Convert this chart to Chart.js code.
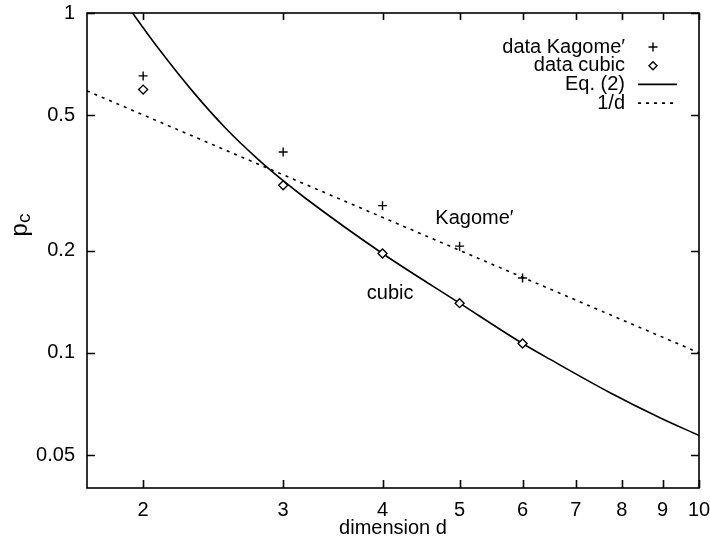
<!DOCTYPE html>
<html>
<head>
<meta charset="utf-8">
<script src="https://cdn.jsdelivr.net/npm/chart.js@4.4.0/dist/chart.umd.min.js"></script>
<style>
  html, body { margin: 0; padding: 0; background: #fff; }
  #wrap { width: 710px; height: 543px; position: relative; }
</style>
</head>
<body>
<div id="wrap"><canvas id="pcChart"></canvas></div>
<script>
// measured thresholds
const dims = [2, 3, 4, 5, 6];
const kagomeP = [0.653, 0.39, 0.271, 0.206, 0.166];
const cubicP = [0.595, 0.311, 0.196, 0.140, 0.1065];

// Eq. (2) curve
const eqD = [1.94, 2.0, 2.09, 2.3, 2.54, 2.79, 3.0, 3.2, 4.0, 5.0, 6.0, 6.5, 7.73, 8.93, 10];
const eqP = [1.0, 0.905, 0.787, 0.594, 0.458, 0.371, 0.321, 0.285, 0.196, 0.140, 0.1065, 0.0956, 0.0763, 0.0644, 0.0571];

// 1/d line, end points
const invD = [1.7, 10];
const invP = [0.59, 0.1];

const xTicks = [2, 3, 4, 5, 6, 7, 8, 9, 10];
const yTicks = [0.05, 0.1, 0.2, 0.5, 1];

const FONT = "'Liberation Sans', Arial, Helvetica, sans-serif";
Chart.defaults.font.family = FONT;
Chart.defaults.font.size = 20;
Chart.defaults.color = '#000';

const toXY = (xs, ys) => xs.map((x, i) => ({ x: x, y: ys[i] }));

// text put on the plot, anchored in data coordinates
const plotLabels = [
  { text: 'Kagome\u2032', d: 5.22, p: 0.248 },
  { text: 'cubic', d: 4.09, p: 0.149 }
];

// box with inward ticks on all four sides (gnuplot look)
const frameTicks = {
  id: 'frameTicks',
  afterDatasetsDraw(chart) {
    const { ctx, chartArea: a, scales: { x, y } } = chart;
    ctx.save();
    ctx.strokeStyle = '#000';
    ctx.lineWidth = 1.6;
    ctx.strokeRect(a.left, a.top, a.right - a.left, a.bottom - a.top);
    ctx.beginPath();
    xTicks.forEach(v => {
      const px = Math.round(x.getPixelForValue(v)) + 0.5;
      ctx.moveTo(px, a.bottom); ctx.lineTo(px, a.bottom - 8);
      ctx.moveTo(px, a.top); ctx.lineTo(px, a.top + 7);
    });
    yTicks.forEach(v => {
      const py = Math.round(y.getPixelForValue(v)) + 0.5;
      ctx.moveTo(a.left, py); ctx.lineTo(a.left + 8, py);
      ctx.moveTo(a.right, py); ctx.lineTo(a.right - 8, py);
    });
    ctx.stroke();

    // curve labels
    ctx.fillStyle = '#000';
    ctx.font = '20px ' + FONT;
    ctx.textAlign = 'center';
    ctx.textBaseline = 'middle';
    plotLabels.forEach(l => {
      ctx.fillText(l.text, x.getPixelForValue(l.d), y.getPixelForValue(l.p));
    });

    // y title p_c, rotated
    ctx.translate(27, 225);
    ctx.rotate(-Math.PI / 2);
    ctx.textAlign = 'left';
    ctx.textBaseline = 'alphabetic';
    ctx.font = '24px ' + FONT;
    const wp = ctx.measureText('p').width;
    ctx.font = '19px ' + FONT;
    const wc = ctx.measureText('c').width;
    const x0 = -(wp + wc) / 2;
    ctx.font = '24px ' + FONT;
    ctx.fillText('p', x0, 0);
    ctx.font = '19px ' + FONT;
    ctx.fillText('c', x0 + wp, 3);
    ctx.restore();
  }
};

// legend in gnuplot style: text right aligned, sample on the right
const keyLegend = {
  id: 'keyLegend',
  afterDraw(chart) {
    const { ctx, chartArea: a } = chart;
    const ds = chart.data.datasets;
    const textRight = a.right - 74;
    const symX = a.right - 46;
    ctx.save();
    ctx.font = '20px ' + FONT;
    ctx.fillStyle = '#000';
    ctx.strokeStyle = '#000';
    ctx.textAlign = 'right';
    ctx.textBaseline = 'middle';
    ds.forEach((d, i) => {
      const yy = a.top + 34 + i * 18.7;
      ctx.fillText(d.label, textRight, yy);
      ctx.lineWidth = d.showLine ? d.borderWidth : d.pointBorderWidth;
      ctx.setLineDash(d.borderDash || []);
      ctx.beginPath();
      if (d.showLine) {
        ctx.moveTo(a.right - 61, yy);
        ctx.lineTo(a.right - 22, yy);
      } else if (d.pointStyle === 'cross') {
        const r = d.pointRadius;
        ctx.moveTo(symX - r, yy); ctx.lineTo(symX + r, yy);
        ctx.moveTo(symX, yy - r); ctx.lineTo(symX, yy + r);
      } else {
        const r = d.pointRadius - 0.5;
        ctx.moveTo(symX, yy - r); ctx.lineTo(symX + r, yy);
        ctx.lineTo(symX, yy + r); ctx.lineTo(symX - r, yy);
        ctx.closePath();
      }
      ctx.stroke();
    });
    ctx.restore();
  }
};

const ctx = document.getElementById('pcChart').getContext('2d');
const chart = new Chart(ctx, {
  type: 'scatter',
  data: {
    datasets: [
      {
        label: 'data Kagome\u2032',
        data: toXY(dims, kagomeP),
        showLine: false,
        pointStyle: 'cross',
        pointRadius: 4.5,
        pointBorderWidth: 1.4,
        borderColor: '#000',
        backgroundColor: '#000'
      },
      {
        label: 'data cubic',
        data: toXY(dims, cubicP),
        showLine: false,
        pointStyle: 'rectRot',
        pointRadius: 4.5,
        pointBorderWidth: 1.4,
        borderColor: '#000',
        backgroundColor: '#fff'
      },
      {
        label: 'Eq. (2)',
        data: toXY(eqD, eqP),
        showLine: true,
        borderColor: '#000',
        borderWidth: 1.6,
        pointRadius: 0,
        cubicInterpolationMode: 'monotone'
      },
      {
        label: '1/d',
        data: toXY(invD, invP),
        showLine: true,
        borderColor: '#000',
        borderWidth: 1.6,
        borderDash: [3, 5],
        pointRadius: 0
      }
    ]
  },
  options: {
    responsive: true,
    maintainAspectRatio: false,
    animation: false,
    events: [],
    layout: { padding: 0 },
    plugins: {
      legend: { display: false },
      tooltip: { enabled: false }
    },
    scales: {
      x: {
        type: 'logarithmic',
        min: 1.7,
        max: 10,
        grid: { display: false },
        border: { display: false },
        afterBuildTicks: s => { s.ticks = xTicks.map(v => ({ value: v })); },
        afterFit: s => { s.height = 55; s.paddingLeft = 0; s.paddingRight = 11; },
        ticks: {
          padding: 2,
          maxRotation: 0,
          autoSkip: false,
          callback: v => String(v)
        },
        title: {
          display: true,
          text: 'dimension d',
          padding: { top: 0, bottom: 3 }
        }
      },
      y: {
        type: 'logarithmic',
        min: 0.04,
        max: 1,
        grid: { display: false },
        border: { display: false },
        afterBuildTicks: s => { s.ticks = yTicks.map(v => ({ value: v })); },
        afterFit: s => { s.width = 87; s.paddingTop = 13; s.paddingBottom = 0; },
        ticks: {
          padding: 4,
          autoSkip: false,
          callback: v => String(v)
        }
      }
    }
  },
  plugins: [frameTicks, keyLegend]
});
</script>
</body>
</html>
